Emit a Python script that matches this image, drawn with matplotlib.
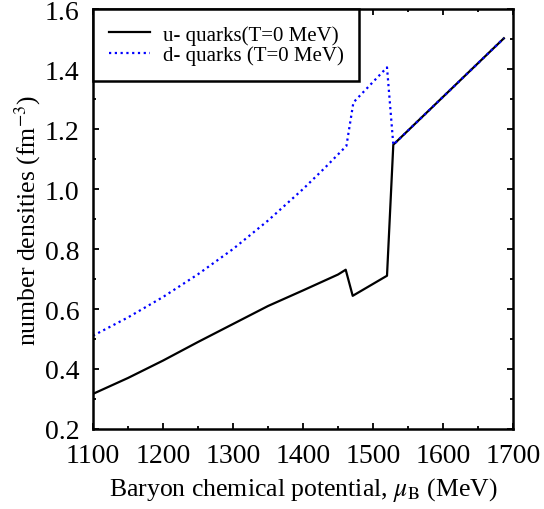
import matplotlib
matplotlib.use("Agg")
import matplotlib.pyplot as plt
from matplotlib.ticker import MultipleLocator, FormatStrFormatter

plt.rcParams['font.family'] = ['Liberation Serif', 'DejaVu Serif']
plt.rcParams['mathtext.fontset'] = 'stix'

# u quark number density vs baryon chemical potential
mu_u = [1100, 1150, 1200, 1250, 1300, 1350, 1400, 1450, 1461, 1471, 1520, 1529, 1687]
n_u = [0.317, 0.370, 0.428, 0.490, 0.550, 0.610, 0.662, 0.715, 0.731, 0.644, 0.711, 1.148, 1.503]

# d quark number density
mu_d = [1100, 1150, 1200, 1250, 1300, 1350, 1400, 1430, 1462, 1472, 1520, 1529, 1687]
n_d = [0.511, 0.572, 0.640, 0.716, 0.800, 0.895, 1.000, 1.068, 1.144, 1.289, 1.406, 1.148, 1.503]

fig = plt.figure(figsize=(5.44, 5.10), dpi=100)
ax = fig.add_axes([0.171, 0.157, 0.772, 0.823])

ax.plot(mu_u, n_u, color='black', lw=1.6, label='u- quarks(T=0 MeV)')
ax.plot(mu_d, n_d, color='blue', lw=1.6, ls=(0, (1, 1.6)), label='d- quarks (T=0 MeV)')

ax.set_xlim(1100, 1700)
ax.set_ylim(0.2, 1.6)
ax.xaxis.set_major_locator(MultipleLocator(100))
ax.xaxis.set_minor_locator(MultipleLocator(50))
ax.yaxis.set_major_locator(MultipleLocator(0.2))
ax.yaxis.set_minor_locator(MultipleLocator(0.1))
ax.yaxis.set_major_formatter(FormatStrFormatter('%.1f'))
ax.tick_params(which='both', direction='in', top=True, right=True, width=1.3)
ax.tick_params(which='major', length=4, labelsize=20, pad=10)
ax.tick_params(which='minor', length=2.5)
for s in ax.spines.values():
    s.set_linewidth(1.8)

ax.set_xlabel(r'Baryon chemical potential, $\mu_{\rm B}$ (MeV)', fontsize=18.5, labelpad=5)
ax.set_ylabel(r'number densities (fm$^{-3}$)', fontsize=18.5, labelpad=1)

leg = ax.legend(loc='upper left', fontsize=15, fancybox=False, framealpha=1,
                edgecolor='black', borderaxespad=0, handlelength=2.0,
                handletextpad=0.6, labelspacing=0.05, borderpad=0.75)
leg.get_frame().set_linewidth(1.8)

fig.savefig('out.png', dpi=100)
